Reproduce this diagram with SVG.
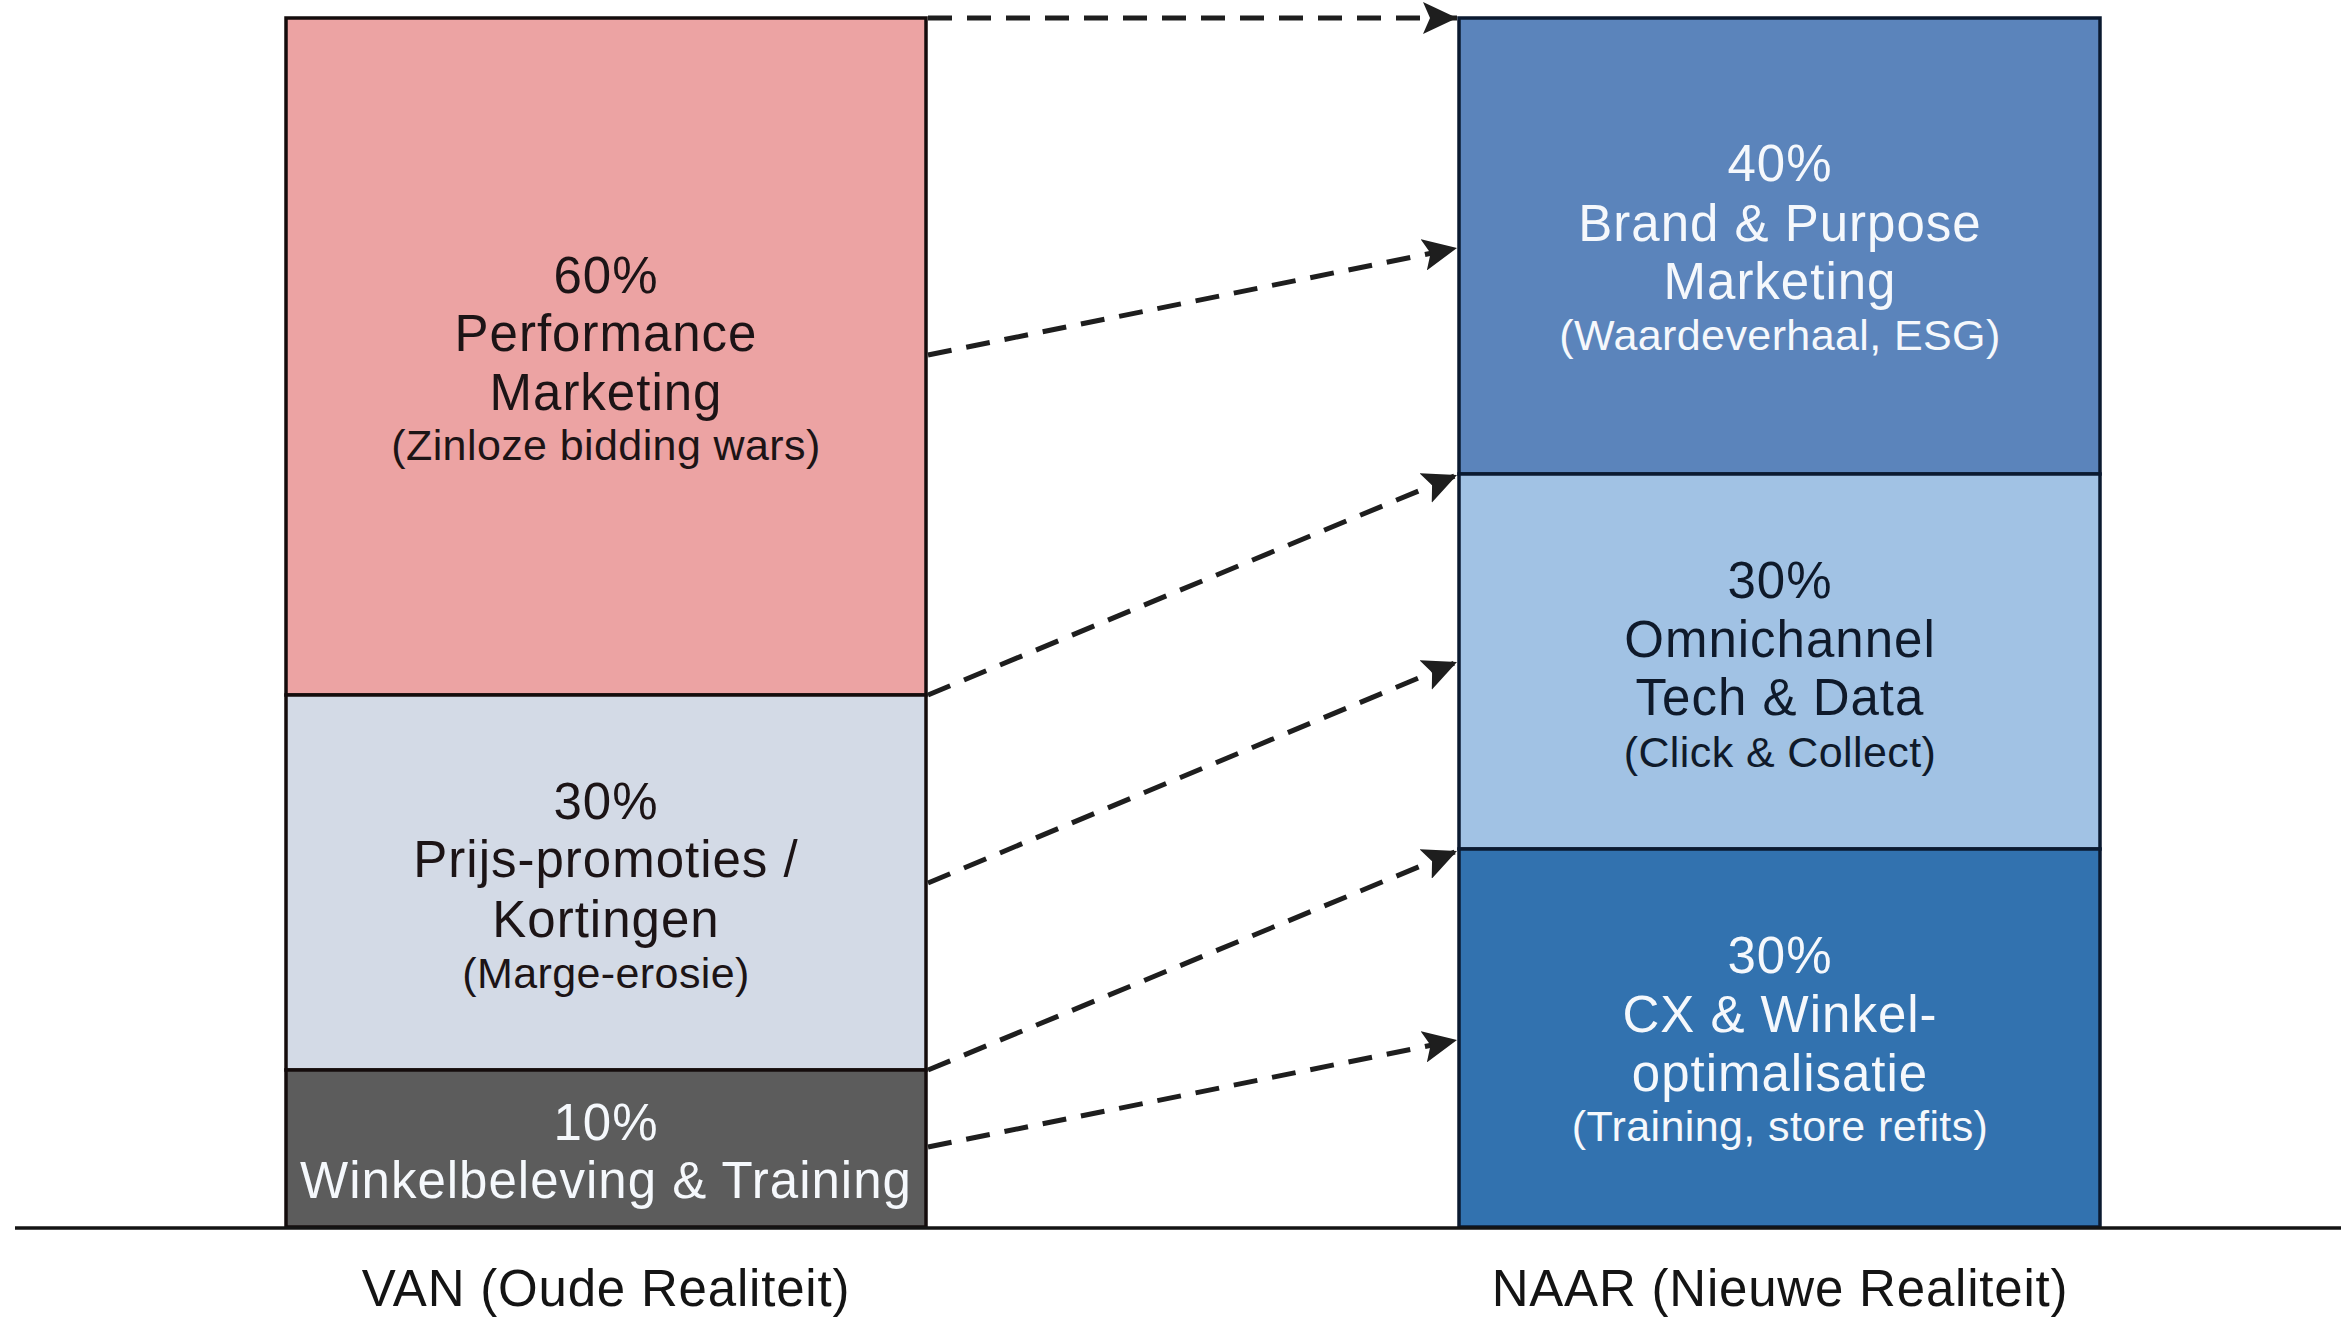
<svg xmlns="http://www.w3.org/2000/svg" width="2341" height="1322" viewBox="0 0 2341 1322">
<style>
  text { font-family: "Liberation Sans", Arial, sans-serif; text-anchor: middle; }
  .main { font-size: 51px; letter-spacing: 1px; }
  .sub { font-size: 43px; letter-spacing: 0.4px; }
  .dark { fill: #1c1416; }
  .navy { fill: #0f1a2b; }
  .light { fill: #f5f8fc; }
  .lbox { stroke: #140c0c; stroke-width: 3.5; }
  .rbox { stroke: #0b1a30; stroke-width: 3.5; }
  .conn { fill: none; stroke: #1e1e1e; stroke-width: 5; stroke-dasharray: 24 15; marker-end: url(#arrow); }
  .axislabel { font-size: 51px; letter-spacing: 0.8px; fill: #141414; }
</style>
<defs>
  <marker id="arrow" markerUnits="userSpaceOnUse" markerWidth="36" markerHeight="32" refX="34" refY="16" orient="auto">
    <path d="M0,0 L34,16 L0,32 L7,16 Z" fill="#1e1e1e"/>
  </marker>
</defs>
<rect width="2341" height="1322" fill="#ffffff"/>

<g id="van-performance">
  <rect class="lbox" x="286" y="18" width="640" height="677" fill="#eca3a3"/>
  <text class="main dark" x="606" y="293">60%</text>
  <text class="main dark" x="606" y="351">Performance</text>
  <text class="main dark" x="606" y="410">Marketing</text>
  <text class="sub dark" x="606" y="460">(Zinloze bidding wars)</text>
</g>
<g id="van-prijs">
  <rect class="lbox" x="286" y="695" width="640" height="375" fill="#d3dae6"/>
  <text class="main dark" x="606" y="819">30%</text>
  <text class="main dark" x="606" y="877">Prijs-promoties /</text>
  <text class="main dark" x="606" y="937">Kortingen</text>
  <text class="sub dark" x="606" y="988">(Marge-erosie)</text>
</g>
<g id="van-winkel">
  <rect class="lbox" x="286" y="1070" width="640" height="157" fill="#5c5c5c"/>
  <text class="main light" x="606" y="1140">10%</text>
  <text class="main light" x="606" y="1198">Winkelbeleving &amp; Training</text>
</g>

<g id="naar-brand">
  <rect class="rbox" x="1459" y="18" width="641" height="456" fill="#5b84bb"/>
  <text class="main light" x="1780" y="181">40%</text>
  <text class="main light" x="1780" y="241">Brand &amp; Purpose</text>
  <text class="main light" x="1780" y="299">Marketing</text>
  <text class="sub light" x="1780" y="350">(Waardeverhaal, ESG)</text>
</g>
<g id="naar-omnichannel">
  <rect class="rbox" x="1459" y="474" width="641" height="375" fill="#a1c2e4"/>
  <text class="main navy" x="1780" y="598">30%</text>
  <text class="main navy" x="1780" y="657">Omnichannel</text>
  <text class="main navy" x="1780" y="715">Tech &amp; Data</text>
  <text class="sub navy" x="1780" y="767">(Click &amp; Collect)</text>
</g>
<g id="naar-cx">
  <rect class="rbox" x="1459" y="849" width="641" height="378" fill="#3272af"/>
  <text class="main light" x="1780" y="973">30%</text>
  <text class="main light" x="1780" y="1032">CX &amp; Winkel-</text>
  <text class="main light" x="1780" y="1091">optimalisatie</text>
  <text class="sub light" x="1780" y="1141">(Training, store refits)</text>
</g>

<g id="connectors">
  <line class="conn" x1="928" y1="18" x2="1457" y2="18"/>
  <line class="conn" x1="928" y1="355" x2="1457" y2="248"/>
  <line class="conn" x1="928" y1="695" x2="1457" y2="475"/>
  <line class="conn" x1="928" y1="883" x2="1457" y2="662"/>
  <line class="conn" x1="928" y1="1070" x2="1457" y2="851"/>
  <line class="conn" x1="928" y1="1147" x2="1457" y2="1040"/>
</g>

<g id="axis">
  <line x1="15" y1="1228" x2="2341" y2="1228" stroke="#141414" stroke-width="3.5"/>
  <text class="axislabel" x="606" y="1306">VAN (Oude Realiteit)</text>
  <text class="axislabel" x="1780" y="1306">NAAR (Nieuwe Realiteit)</text>
</g>
</svg>
